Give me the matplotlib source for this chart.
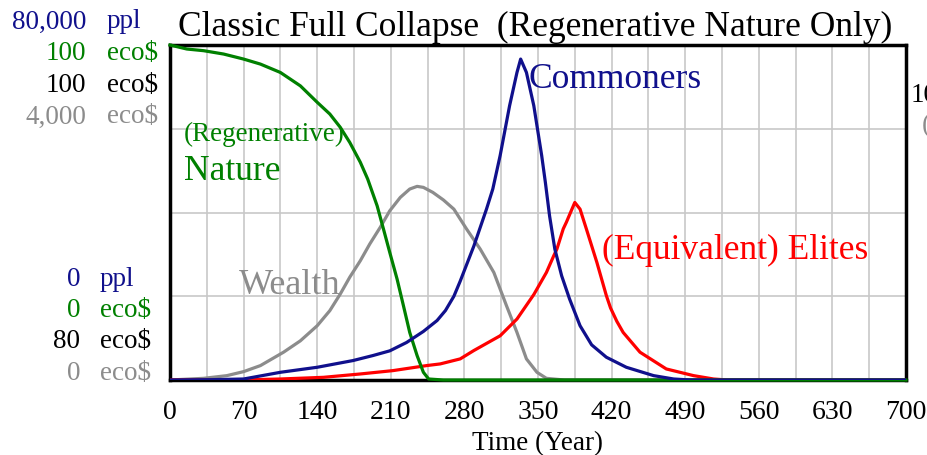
import matplotlib
matplotlib.use("Agg")
import matplotlib.pyplot as plt
import numpy as np

plt.rcParams['font.family'] = ['Liberation Serif', 'DejaVu Serif']

# ---------------- data ----------------
nature_t = [0, 16, 32, 51, 70, 86, 105, 124, 140, 152, 162, 171, 181, 188, 197, 203,
            209, 216, 222, 228, 235, 241, 246, 260, 700]
nature_v = [100, 98.8, 98.3, 97.3, 95.8, 94.3, 91.8, 87.8, 82.9, 79.4, 75.4, 70.9,
            65.0, 60.0, 52.0, 45.1, 38.1, 30.1, 22.2, 14.2, 7.3, 2.3, 0.3, 0, 0]   # eco$

wealth_t = [0, 32, 54, 70, 86, 108, 124, 140, 152, 162, 171, 181, 190, 200, 209, 219,
            228, 235, 241, 250, 260, 270, 282, 295, 308, 320, 330, 339, 349, 358, 375, 700]
wealth_v = [0, 20, 52, 100, 172, 332, 468, 648, 828, 1028, 1228, 1424, 1624, 1824,
            2020, 2180, 2280, 2312, 2300, 2240, 2150, 2040, 1804, 1564, 1284, 888,
            568, 252, 92, 20, 0, 0]                                               # eco$

commoners_t = [0, 40, 70, 105, 140, 174, 193, 209, 225, 241, 254, 262, 270, 276, 289,
               301, 307, 314, 323, 330, 333.5, 339, 346, 353.5, 357, 361, 366, 372.5,
               380, 390, 401, 415, 434, 460, 479, 495, 700]
commoners_v = [0, 80, 240, 1840, 3040, 4640, 5840, 6960, 8960, 11600, 14200, 16600,
               20000, 23600, 32000, 40800, 45600, 53600, 65520, 73440, 76640, 73440,
               65520, 53600, 47200, 39200, 31280, 24880, 19360, 12960, 8400, 5440,
               3040, 1040, 240, 0, 0]                                              # ppl

elites_t = [0, 67, 105, 146, 181, 212, 244, 257, 276, 289, 314, 330, 346, 358, 365,
            368, 374, 377, 385, 390, 396, 406, 415, 419, 425, 431, 447, 472, 498, 517,
            530, 700]
elites_v = [0, 0, 30, 80, 180, 280, 430, 480, 630, 880, 1320, 1820, 2550, 3210, 3710,
            3910, 4510, 4710, 5300, 5100, 4510, 3510, 2520, 2150, 1750, 1420, 830, 330,
            130, 30, 0, 0]                                                        # ppl

commoners_max = 80000   # ppl
nature_max = 100        # eco$
wealth_max = 4000       # eco$
elites_max = 10000      # ppl

x_ticks = [0, 70, 140, 210, 280, 350, 420, 490, 560, 630, 700]

NAVY = "#10108C"
GREEN = "#008000"
GREY = "#8C8C8C"
RED = "#FF0000"

left_labels_top = [
    ("80,000", "ppl", NAVY), ("100", "eco$", GREEN),
    ("100", "eco$", "#000000"), ("4,000", "eco$", GREY),
]
left_labels_bottom = [
    ("0", "ppl", NAVY), ("0", "eco$", GREEN),
    ("80", "eco$", "#000000"), ("0", "eco$", GREY),
]

W, H = 927, 456
fig = plt.figure(figsize=(W / 100, H / 100), dpi=100)
ax = fig.add_axes([170 / W, (H - 381) / H, 736 / W, 335 / H])


def px(x, y):
    return (x / W, 1 - y / H)


ax.set_xlim(0, 700)
ax.set_ylim(0, 1)

# grid
for xv in np.arange(35, 700, 35):
    ax.axvline(xv, color="#C8C8C8", lw=1.2, zorder=0)
for yv in [0.25, 0.5, 0.75]:
    ax.axhline(yv, color="#C8C8C8", lw=1.2, zorder=0)

lw = 2.3
ax.plot(wealth_t, np.array(wealth_v) / wealth_max, color=GREY, lw=lw, zorder=2)
ax.plot(elites_t, np.array(elites_v) / elites_max, color=RED, lw=lw, zorder=3)
ax.plot(nature_t, np.array(nature_v) / nature_max, color=GREEN, lw=lw, zorder=4,
        clip_on=False)
ax.plot(commoners_t, np.array(commoners_v) / commoners_max, color=NAVY, lw=lw, zorder=5)

for s in ax.spines.values():
    s.set_linewidth(2.5)
    s.set_color("black")

ax.set_xticks(x_ticks)
ax.set_xticklabels([str(v) for v in x_ticks], fontsize=20)
ax.set_yticks([])
ax.tick_params(axis="x", length=0, pad=14)
ax.set_xlabel("Time (Year)", fontsize=19.5, labelpad=4)

# title
fig.text(*px(535, 27), "Classic Full Collapse  (Regenerative Nature Only)",
         ha="center", va="center", fontsize=25.5)

# left axis labels
top_y = [22, 54, 86, 117]
for (v, u, c), y in zip(left_labels_top, top_y):
    fig.text(*px(86, y), v, ha="right", va="center", fontsize=19.5, color=c)
    fig.text(*px(107, y), u, ha="left", va="center", fontsize=19.5, color=c)
bot_y = [280, 311, 342, 374]
for (v, u, c), y in zip(left_labels_bottom, bot_y):
    fig.text(*px(80, y), v, ha="right", va="center", fontsize=19.5, color=c)
    fig.text(*px(100, y), u, ha="left", va="center", fontsize=19.5, color=c)

# right-hand labels, cut off by the figure edge as in the reference
fig.text(*px(911, 95), "100", ha="left", va="center", fontsize=19.5, color="black")
fig.text(*px(922, 126), "(", ha="left", va="center", fontsize=19.5, color=GREY)

# curve annotations
fig.text(*px(529, 80), "Commoners", ha="left", va="center", fontsize=25.5, color=NAVY)
fig.text(*px(184, 134), "(Regenerative)", ha="left", va="center", fontsize=19.5, color=GREEN)
fig.text(*px(184, 172), "Nature", ha="left", va="center", fontsize=25.5, color=GREEN)
fig.text(*px(239, 285), "Wealth", ha="left", va="center", fontsize=26, color=GREY)
fig.text(*px(602, 250), "(Equivalent) Elites", ha="left", va="center", fontsize=25.5,
         color=RED)

fig.savefig("out.png", dpi=100)
